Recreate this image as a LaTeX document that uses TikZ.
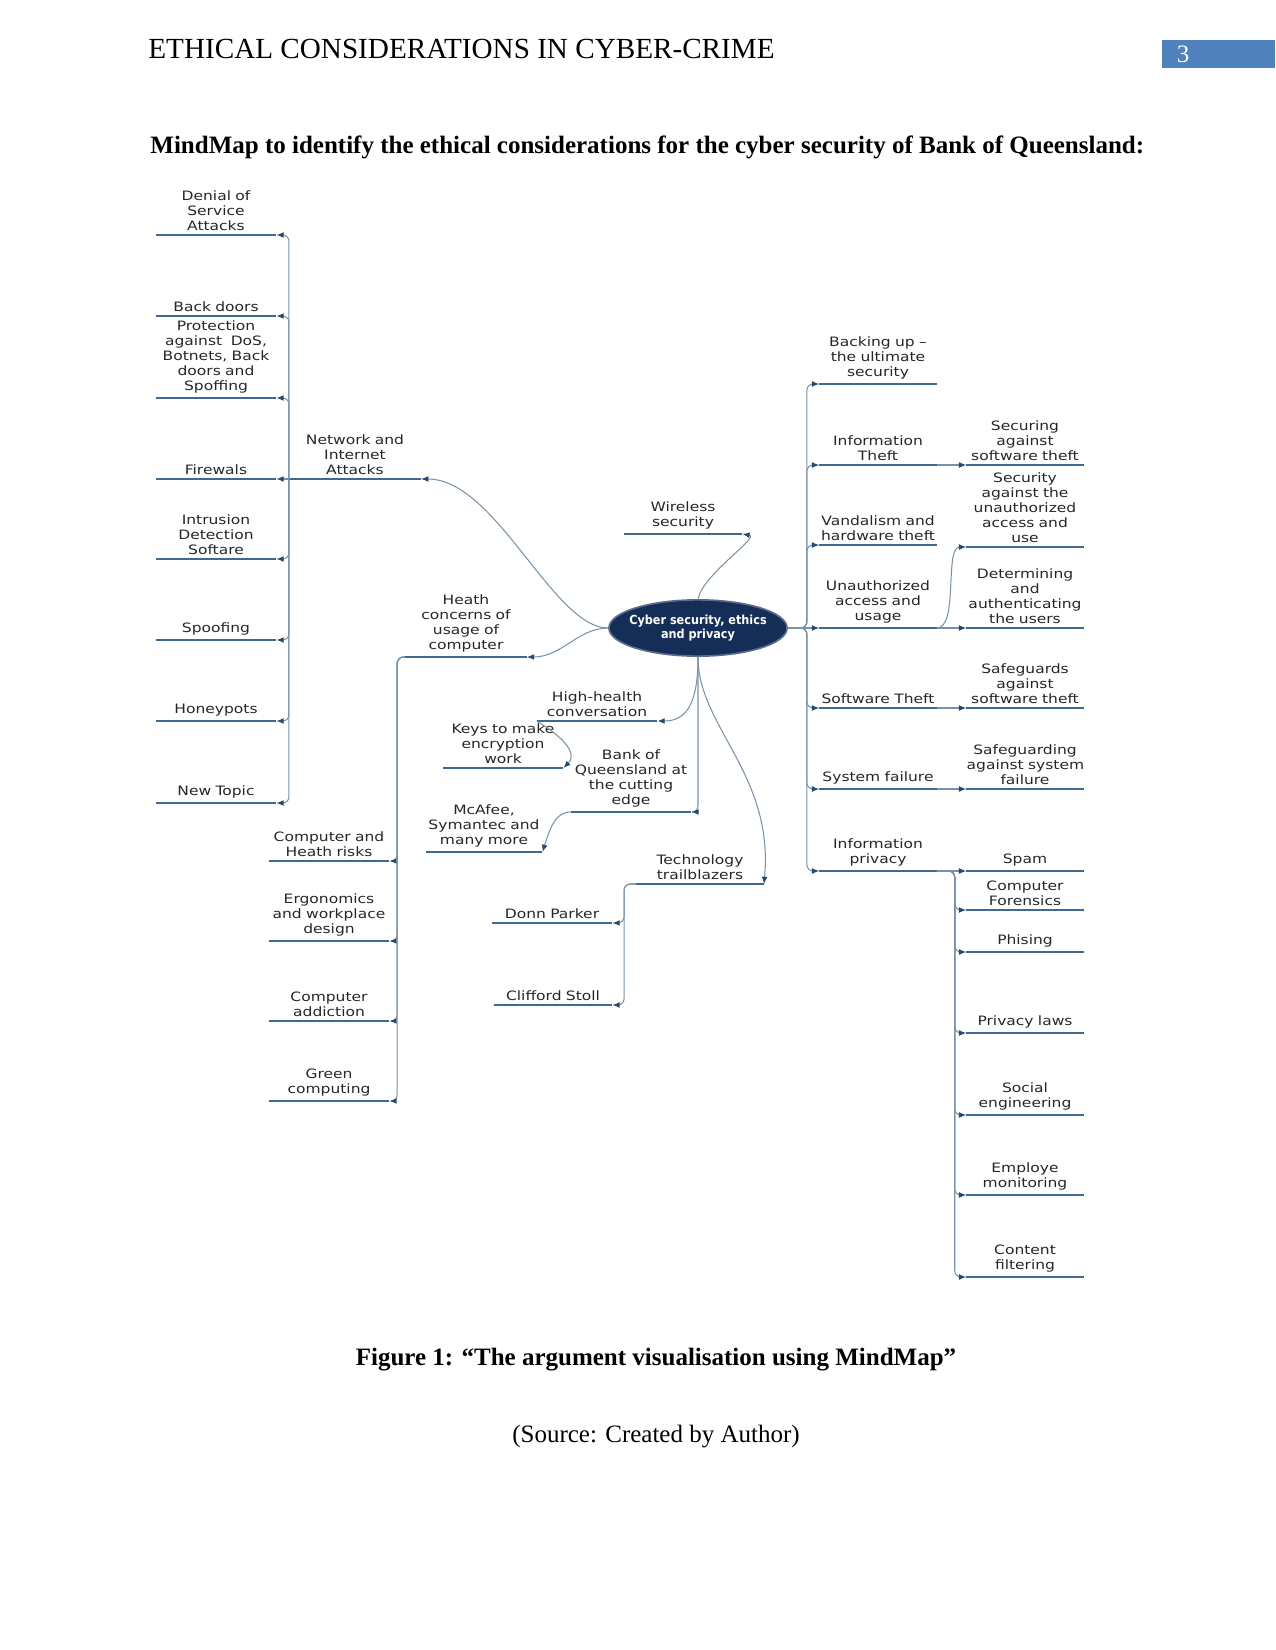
\documentclass[tikz,border=0pt]{standalone}
\usepackage{fontspec}
\setmainfont{Liberation Serif}
\newfontfamily\mapfont{DejaVu Sans}[FakeStretch=1.2]
\newfontfamily\corefont{DejaVu Sans}[FakeStretch=0.9]
\usetikzlibrary{shapes.geometric,arrows.meta}
\definecolor{barblue}{RGB}{62,106,145}
\definecolor{linkblue}{RGB}{120,146,170}
\definecolor{tipblue}{RGB}{40,72,108}
\definecolor{coreblue}{RGB}{21,46,88}
\definecolor{pagebox}{RGB}{79,129,189}
\begin{document}
\begin{tikzpicture}[x=0.48pt, y=-0.48pt,
  topic/.style={font=\mapfont\fontsize{6.2}{7.2}\selectfont, text=black!85, align=center,
    text width=#1, inner xsep=0pt, inner ysep=2pt, anchor=south},
  topic/.default=57.6pt,
  bar/.style={draw=barblue, line width=1.2pt},
  link/.style={draw=linkblue, line width=0.5pt, rounded corners=3pt,
    -{Latex[length=3.5pt,width=2.8pt,color=tipblue]}},
  core/.style={ellipse, fill=coreblue, draw=coreblue!70, line width=0.8pt,
    inner xsep=-7pt, inner ysep=0pt, minimum width=85.5pt, minimum height=27pt,
    text=white, align=center, font=\corefont\bfseries\fontsize{6}{6.6}\selectfont}]
\useasboundingbox (0,0) rectangle (1275,1650);

% page head
\node[anchor=west, inner xsep=0pt, font=\fontsize{14}{16}\selectfont] (header) at (148,49) {ETHICAL CONSIDERATIONS IN CYBER-CRIME};
\fill[pagebox] (1162,40) rectangle (1275,68);
\node[text=white, font=\fontsize{12}{14}\selectfont] (pagenum) at (1183,54) {3};
\node[anchor=west, inner xsep=0pt, font=\bfseries\fontsize{12}{14}\selectfont] (title) at (150,147) {MindMap to identify the ethical considerations for the cyber security of Bank of Queensland:};

% centre
\node[core] (core) at (698,628) {Cyber security, ethics\\and privacy};

% network and internet attacks
\node[topic=63pt] (nia) at (355,479) {Network and\\Internet\\Attacks};
\node[topic] (dos) at (216,235) {Denial of\\Service\\Attacks};
\node[topic] (backdoors) at (216,316) {Back doors};
\node[topic] (protect) at (216,398) {Protection\\against\ \ DoS,\\Botnets, Back\\doors and\\Spoffing};
\node[topic] (firewalls) at (216,479) {Firewals};
\node[topic] (ids) at (216,559) {Intrusion\\Detection\\Softare};
\node[topic] (spoofing) at (216,640) {Spoofing};
\node[topic] (honeypots) at (216,721) {Honeypots};
\node[topic] (newtopic) at (216,803) {New Topic};

% health
\node[topic=58pt] (health) at (466,657) {Heath\\concerns of\\usage of\\computer};
\node[topic] (chrisk) at (329,861) {Computer and\\Heath risks};
\node[topic] (ergo) at (329,941) {Ergonomics\\and workplace\\design};
\node[topic] (addiction) at (329,1021) {Computer\\addiction};
\node[topic] (green) at (329,1101) {Green\\computing};

% below the centre
\node[topic=56.6pt] (wireless) at (683,534) {Wireless\\security};
\node[topic] (highhealth) at (597,721) {High-health\\conversation};
\node[topic] (keys) at (503,768) {Keys to make\\encryption\\work};
\node[topic] (boq) at (631,812) {Bank of\\Queensland at\\the cutting\\edge};
\node[topic=55.7pt] (mcafee) at (484,852) {McAfee,\\Symantec and\\many more};
\node[topic=61pt] (trail) at (700,884) {Technology\\trailblazers};
\node[topic] (parker) at (552,923) {Donn Parker};
\node[topic=56.6pt] (stoll) at (553,1005) {Clifford Stoll};

% right side
\node[topic=56pt] (backup) at (878,384) {Backing up –\\the ultimate\\security};
\node[topic=56pt] (infotheft) at (878,465) {Information\\Theft};
\node[topic=56pt] (vandal) at (878,545) {Vandalism and\\hardware theft};
\node[topic=56pt] (unauth) at (878,628) {Unauthorized\\access and\\usage};
\node[topic=56pt] (swtheft) at (878,708) {Software Theft};
\node[topic=56pt] (sysfail) at (878,789) {System failure};
\node[topic=56pt] (privacy) at (878,871) {Information\\privacy};

\node[topic=56pt] (secsw) at (1025,465) {Securing\\against\\software theft};
\node[topic=56pt] (secunauth) at (1025,547) {Security\\against the\\unauthorized\\access and\\use};
\node[topic=56pt] (determ) at (1025,628) {Determining\\and\\authenticating\\the users};
\node[topic=56pt] (safesw) at (1025,708) {Safeguards\\against\\software theft};
\node[topic=56pt] (safesys) at (1025,789) {Safeguarding\\\mbox{against system}\\failure};
\node[topic=56pt] (spam) at (1025,871) {Spam};
\node[topic=56pt] (forensics) at (1025,910) {Computer\\Forensics};
\node[topic=56pt] (phising) at (1025,952) {Phising};
\node[topic=56pt] (privlaws) at (1025,1033) {Privacy laws};
\node[topic=56pt] (social) at (1025,1115) {Social\\engineering};
\node[topic=56pt] (employe) at (1025,1195) {Employe\\monitoring};
\node[topic=56pt] (content) at (1025,1277) {Content\\filtering};

% underlines
\foreach \n in {nia,dos,backdoors,protect,firewalls,ids,spoofing,honeypots,newtopic,
  health,chrisk,ergo,addiction,green,wireless,highhealth,keys,boq,mcafee,trail,parker,stoll,
  backup,infotheft,vandal,unauth,swtheft,sysfail,privacy,
  secsw,secunauth,determ,safesw,safesys,spam,forensics,phising,privlaws,social,employe,content}
  \draw[bar] (\n.south west) -- (\n.south east);

% links
\draw[link] (core.west) .. controls +(-55,0) and +(75,0) .. (nia.south east);
\foreach \n in {dos,backdoors,protect,ids,spoofing,honeypots,newtopic}
  \draw[link] (nia.south west) |- (\n.south east);
\draw[link] (nia.south west) -- (firewalls.south east);

\draw[link] (core.west) .. controls +(-30,0) and +(35,0) .. (health.south east);
\foreach \n in {chrisk,ergo,addiction,green}
  \draw[link] (health.south west) -- ++(-8,0) |- (\n.south east);

\draw[link] (core.north) .. controls +(5,-25) and +(18,3) .. (wireless.south east);
\draw[link] (core.south) .. controls +(0,45) and +(30,0) .. (highhealth.south east);
\draw[link] (highhealth.south west) .. controls +(25,15) and +(15,-15) .. (keys.south east);
\draw[link] (core.south) |- (boq.south east);
\draw[link] (boq.south west) .. controls +(-15,0) and +(8,-25) .. (mcafee.south east);
\draw[link] (core.south) .. controls +(0,70) and +(10,-110) .. (trail.south east);
\foreach \n in {parker,stoll}
  \draw[link] (trail.south west) -- ++(-12,0) |- (\n.south east);

\foreach \n in {backup,infotheft,vandal,swtheft,sysfail,privacy}
  \draw[link] (core.east) -- ++(19,0) |- (\n.south west);
\draw[link] (core.east) -- (unauth.south west);
\draw[link] (infotheft.south east) -- (secsw.south west);
\draw[link] (unauth.south east) .. controls +(22,0) and +(-22,0) .. (secunauth.south west);
\draw[link] (unauth.south east) -- (determ.south west);
\draw[link] (swtheft.south east) -- (safesw.south west);
\draw[link] (sysfail.south east) -- (safesys.south west);
\draw[link] (privacy.south east) -- (spam.south west);
\foreach \n in {forensics,phising,privlaws,social,employe,content}
  \draw[link] (privacy.south east) -- ++(18,0) |- (\n.south west);

% caption
\node[font=\bfseries\fontsize{12}{14}\selectfont] (caption) at (656,1360) {Figure 1: “The argument visualisation using MindMap”};
\node[font=\fontsize{12}{14}\selectfont] (source) at (656,1437) {(Source: Created by Author)};
\end{tikzpicture}
\end{document}
